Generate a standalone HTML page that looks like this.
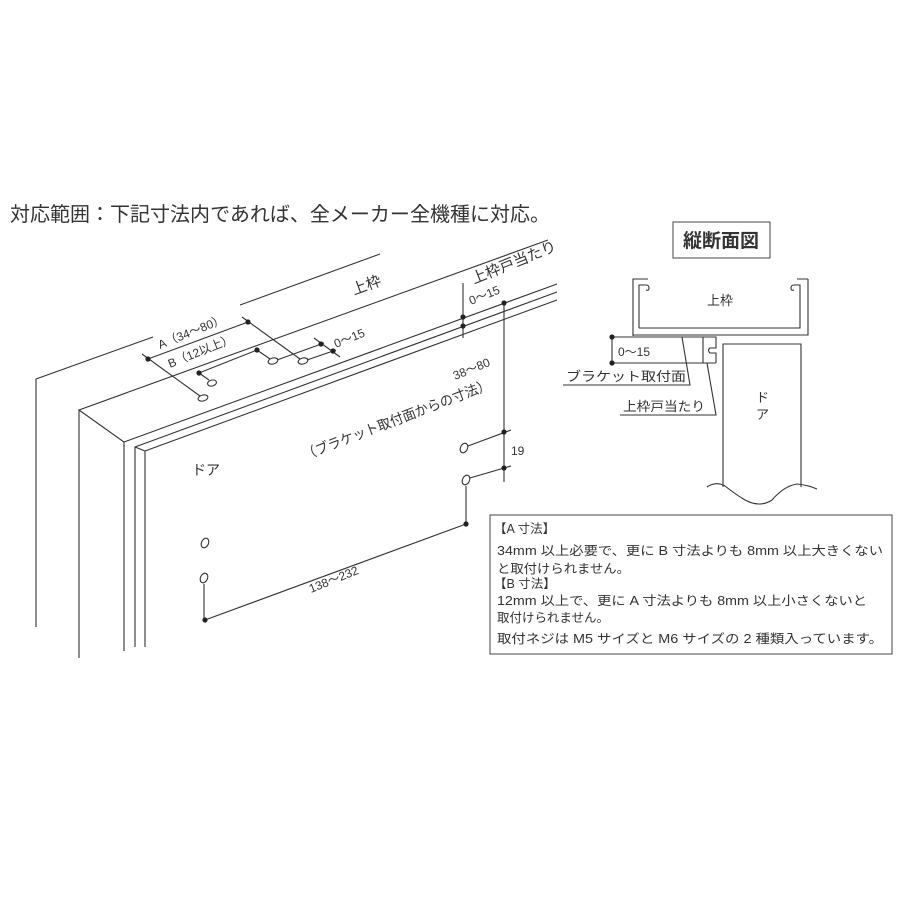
<!DOCTYPE html>
<html><head><meta charset="utf-8"><style>
html,body{margin:0;padding:0;background:#fff;}
svg{display:block;}
text{font-family:"Liberation Sans","Noto Sans CJK JP",sans-serif;fill:#333;}
</style></head><body>
<svg width="900" height="900" viewBox="0 0 900 900" xmlns="http://www.w3.org/2000/svg">
<rect width="900" height="900" fill="#fff"/>
<text x="10" y="221" font-size="20" textLength="540" lengthAdjust="spacingAndGlyphs">対応範囲：下記寸法内であれば、全メーカー全機種に対応。</text>

<g stroke="#333" stroke-width="1.1" fill="none">
<polyline points="36,627 36,379 153,337"/>
<line x1="240" y1="305" x2="380" y2="254"/>
<polyline points="79,658 79,410 124,442 124,651"/>
<line x1="79" y1="410" x2="548" y2="240"/>
<line x1="124" y1="442" x2="557" y2="284"/>
<polyline points="135,647 135,447 557,292"/>
<polyline points="145,647 145,451 557,300"/>
<line x1="135" y1="447" x2="145" y2="451"/>

<line x1="148" y1="359" x2="248" y2="322"/>
<line x1="142" y1="354" x2="200" y2="396"/>
<line x1="242" y1="317" x2="300" y2="359"/>
<line x1="199" y1="373" x2="257" y2="350"/>
<line x1="199" y1="373" x2="209" y2="380"/>
<line x1="257" y1="350" x2="270" y2="359"/>
<line x1="277" y1="360" x2="324" y2="343"/>
<line x1="307" y1="360" x2="336" y2="350"/>
<line x1="314" y1="338" x2="340" y2="357"/>
<line x1="463" y1="283" x2="463" y2="338"/>
<line x1="504" y1="303" x2="504" y2="482"/>
<line x1="468" y1="446" x2="511" y2="430"/>
<line x1="470" y1="478" x2="511" y2="466"/>
<line x1="466" y1="486" x2="466" y2="524"/>
<line x1="466" y1="524" x2="205" y2="620"/>
<line x1="204" y1="584" x2="204" y2="620"/>

<ellipse cx="203" cy="398" rx="5" ry="3" transform="rotate(-15 203 398)"/>
<ellipse cx="212" cy="383" rx="4.5" ry="3" transform="rotate(-15 212 383)"/>
<ellipse cx="273" cy="361" rx="5" ry="3" transform="rotate(-15 273 361)"/>
<ellipse cx="303" cy="361" rx="5" ry="3" transform="rotate(-15 303 361)"/>
<ellipse cx="464" cy="448" rx="3.5" ry="5" transform="rotate(25 464 448)"/>
<ellipse cx="466" cy="480" rx="3.5" ry="5" transform="rotate(25 466 480)"/>
<ellipse cx="205" cy="543" rx="3.5" ry="5" transform="rotate(25 205 543)"/>
<ellipse cx="204" cy="578" rx="3.5" ry="5" transform="rotate(25 204 578)"/>
</g>
<g fill="#222">
<circle cx="148" cy="359" r="2.6"/><circle cx="248" cy="322" r="2.6"/>
<circle cx="199" cy="373" r="2.6"/><circle cx="257" cy="350" r="2.6"/>
<circle cx="321" cy="344" r="2.6"/><circle cx="333" cy="351" r="2.6"/>
<circle cx="463" cy="317" r="2.6"/><circle cx="463" cy="326" r="2.6"/>
<circle cx="504" cy="303" r="2.6"/><circle cx="504" cy="432" r="2.6"/><circle cx="504" cy="468" r="2.6"/>
<circle cx="466" cy="524" r="2.6"/><circle cx="205" cy="620" r="2.6"/>
</g>
<g font-size="12">
<text transform="translate(160,349) rotate(-22)">A（34〜80）</text>
<text transform="translate(170,368) rotate(-22)">B（12以上）</text>
<text transform="translate(336,348) rotate(-22)">0〜15</text>
<text transform="translate(471,305) rotate(-22)">0〜15</text>
<text transform="translate(455,380) rotate(-22)">38〜80</text>
<text x="511" y="455">19</text>
<text transform="translate(311,593) rotate(-22)">138〜232</text>
</g>
<text font-size="15" transform="translate(354,295) rotate(-20)">上枠</text>
<text font-size="15" transform="translate(474,284) rotate(-22)">上枠戸当たり</text>
<text font-size="14" transform="translate(305,460) rotate(-21)" textLength="200" lengthAdjust="spacingAndGlyphs">（ブラケット取付面からの寸法）</text>
<text font-size="14" x="192" y="475">ドア</text>

<rect x="673" y="222" width="97" height="36" fill="none" stroke="#444" stroke-width="1"/>
<text x="721" y="247" font-size="19" font-weight="bold" text-anchor="middle">縦断面図</text>
<g stroke="#333" stroke-width="1.1" fill="none">
<path d="M639,328 V285 H646 q3,0 3,3 q0,3 -3,2 M633,336 V279 H648 M639,328 H800 V285 H794 q-3,0 -3,3 q0,3 3,2 M808,279 V335 H633 M797,279 H808"/>
<path d="M612,337 H703 M612,363 H716 M703,337 V363 M703,337 H716 V348 H710 q-3,2 0,5 H716 V363"/>
<line x1="612" y1="337" x2="612" y2="363"/>
<polyline points="682,337 690,385 563,385"/>
<polyline points="707,363 716,415 620,415"/>
<path d="M723,487 V344 H801 V487"/>
<path d="M707,487 Q716,481 725,486 Q735,494 745,500 Q760,508 772,500 Q784,486 797,484 Q808,485 817,489"/>
</g>
<circle cx="612" cy="337" r="2.6" fill="#222"/><circle cx="612" cy="363" r="2.6" fill="#222"/>
<text x="618" y="356" font-size="12">0〜15</text>
<text x="707" y="305" font-size="13">上枠</text>
<text x="566" y="381" font-size="13" textLength="120" lengthAdjust="spacingAndGlyphs">ブラケット取付面</text>
<text x="623" y="411" font-size="13" textLength="82" lengthAdjust="spacingAndGlyphs">上枠戸当たり</text>
<text x="756" y="402" font-size="13">ド</text>
<text x="756" y="419" font-size="13">ア</text>

<rect x="490" y="515" width="402" height="139" fill="none" stroke="#444" stroke-width="1"/>
<g font-size="12.5">
<text x="494" y="533">【A 寸法】</text>
<text x="497" y="555" textLength="386" lengthAdjust="spacingAndGlyphs">34mm 以上必要で、更に B 寸法よりも 8mm 以上大きくない</text>
<text x="497" y="573" textLength="133" lengthAdjust="spacingAndGlyphs">と取付けられません。</text>
<text x="494" y="588">【B 寸法】</text>
<text x="497" y="605" textLength="370" lengthAdjust="spacingAndGlyphs">12mm 以上で、更に A 寸法よりも 8mm 以上小さくないと</text>
<text x="497" y="622" textLength="112" lengthAdjust="spacingAndGlyphs">取付けられません。</text>
<text x="497" y="643" textLength="386" lengthAdjust="spacingAndGlyphs">取付ネジは M5 サイズと M6 サイズの 2 種類入っています。</text>
</g>
</svg>
</body></html>
